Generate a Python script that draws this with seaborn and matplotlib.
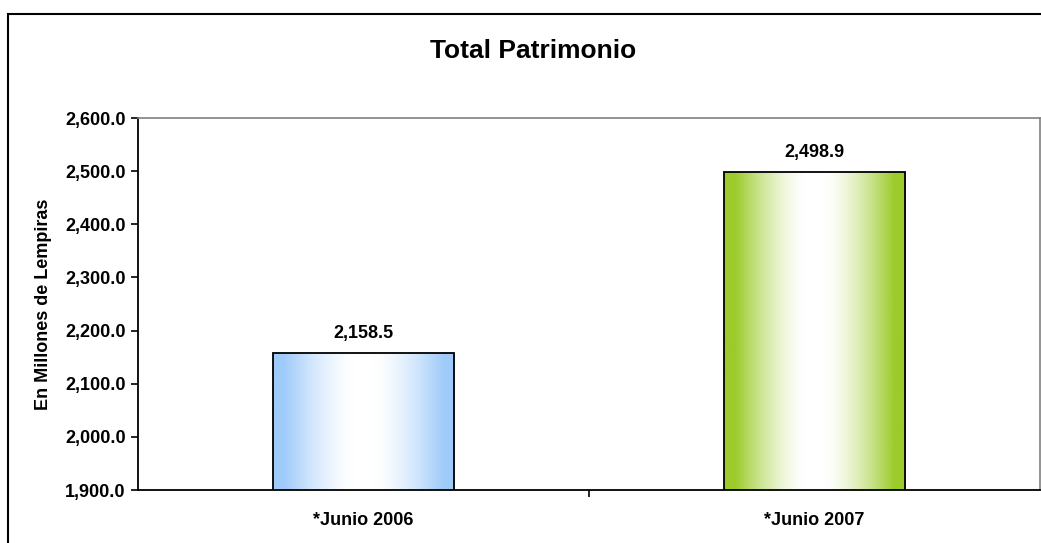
import numpy as np
import matplotlib
matplotlib.use("Agg")
import matplotlib.pyplot as plt
import seaborn as sns
from matplotlib.patches import Rectangle
from matplotlib.ticker import FuncFormatter, FixedLocator
from matplotlib.colors import to_rgb

categories = ["*Junio 2006", "*Junio 2007"]
values = [2158.5, 2498.9]
value_labels = ["2,158.5", "2,498.9"]
edge_colors = ["#9FCBFA", "#9CCB2A"]
title = "Total Patrimonio"
ylabel = "En Millones de Lempiras"

sns.set_theme(style="white")
plt.rcParams['font.family'] = ['Liberation Sans', 'DejaVu Sans']
plt.rcParams['font.weight'] = 'bold'
plt.rcParams['text.color'] = 'black'
plt.rcParams['axes.labelcolor'] = 'black'
plt.rcParams['xtick.color'] = 'black'
plt.rcParams['ytick.color'] = 'black'

W, H = 1041, 543
fig = plt.figure(figsize=(W / 100, H / 100), dpi=100)
ax = fig.add_axes([138 / W, (H - 490) / H, (1040 - 138) / W, (490 - 118) / H])

sns.barplot(x=categories, y=values, ax=ax, width=0.403, facecolor="none",
            edgecolor="black", linewidth=1.3, zorder=3)

ax.set_xlim(-0.5, 1.5)
ax.set_ylim(1900, 2600)

# gradient fills
xs = np.linspace(0, 1, 256)
t = np.clip(np.abs(xs - 0.5) * 2, 0, 1)
t = np.clip((t - 0.1) / 0.78, 0, 1) ** 1.5
for bar, col in zip(ax.patches, edge_colors):
    c = np.array(to_rgb(col))
    img = (1 - t)[:, None] * np.ones(3)[None, :] + t[:, None] * c[None, :]
    img = img[None, :, :]
    x0 = bar.get_x()
    w = bar.get_width()
    im = ax.imshow(img, extent=[x0, x0 + w, 1900, bar.get_height()],
                   aspect="auto", zorder=2, interpolation="bilinear")
    im.set_clip_path(bar)
ax.set_xlim(-0.5, 1.5)
ax.set_ylim(1900, 2600)

for bar, lab in zip(ax.patches, value_labels):
    ax.annotate(lab, (bar.get_x() + bar.get_width() / 2, bar.get_height()),
                xytext=(0, 8), textcoords="offset points", ha="center",
                va="bottom", fontsize=13, fontweight="bold", color="black")

ax.yaxis.set_major_locator(FixedLocator(np.arange(1900, 2601, 100)))
ax.yaxis.set_major_formatter(FuncFormatter(lambda v, p: f"{v:,.1f}"))
ax.xaxis.set_major_locator(FixedLocator([0.5]))
ax.set_xticklabels([""])
ax.set_xticks([0, 1], minor=True)
ax.set_xticklabels(categories, minor=True)
ax.tick_params(axis="x", which="minor", length=0, pad=16, labelsize=13)
ax.tick_params(axis="x", which="major", length=5, width=1.2, color="black", direction="out", bottom=True)
ax.tick_params(axis="y", length=5, width=1.2, color="black", direction="out", left=True, labelsize=13, pad=4)
for lab in ax.get_yticklabels() + ax.get_xticklabels(minor=True):
    lab.set_fontweight("bold")

ax.set_xlabel("")
ax.set_ylabel(ylabel, fontsize=13, fontweight="bold", labelpad=9)

for s in ["left", "bottom"]:
    ax.spines[s].set_color("black")
    ax.spines[s].set_linewidth(1.3)
for s in ["top", "right"]:
    ax.spines[s].set_visible(True)
    ax.spines[s].set_color("#808080")
    ax.spines[s].set_linewidth(1.2)

fig.text(533 / W, 1 - 51 / H, title, ha="center", va="center",
         fontsize=19, fontweight="bold", color="black")

fig.add_artist(Rectangle((8 / W, -0.1), 1.2, 1.1 - 14 / H, transform=fig.transFigure,
                         fill=False, edgecolor="black", linewidth=1.5))

fig.savefig("out.png", dpi=100, facecolor="white")
